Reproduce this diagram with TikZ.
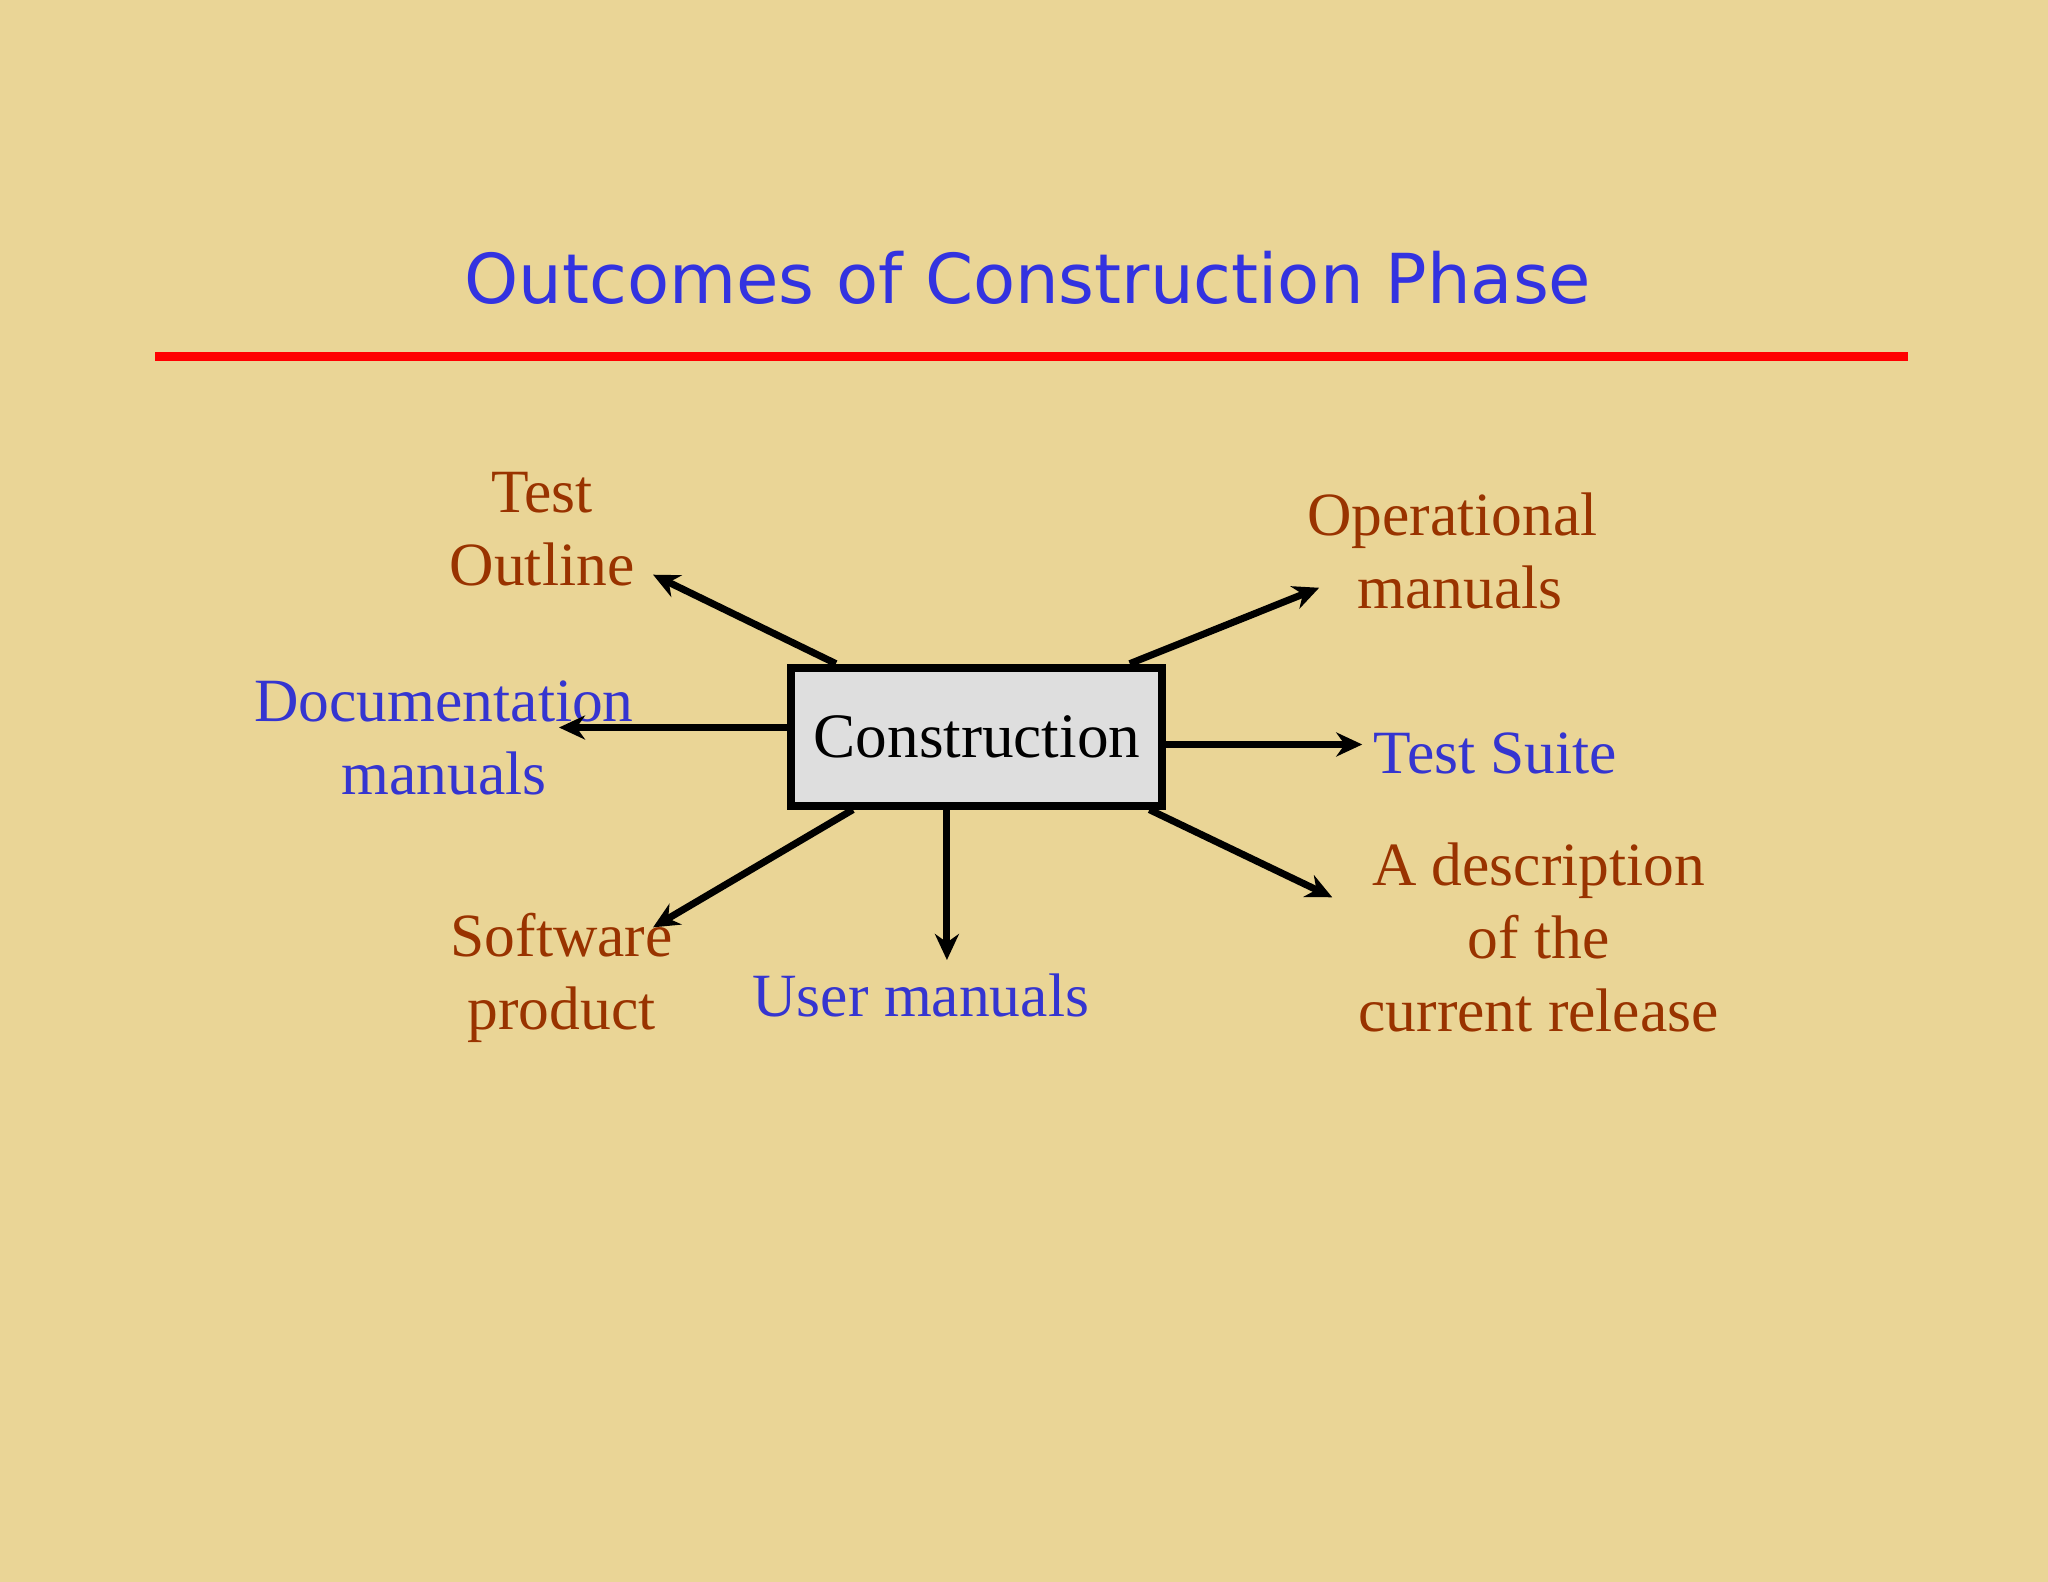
\documentclass[tikz,border=0pt]{standalone}
\usepackage{fontspec}
\setmainfont{Liberation Serif}
\newfontfamily\titlefont{DejaVu Sans}
\usetikzlibrary{arrows.meta}
\definecolor{bg}{HTML}{EAD596}
\definecolor{brn}{HTML}{993300}
\definecolor{blu}{HTML}{3535D0}
\definecolor{ttl}{HTML}{3333E0}
\begin{document}
\begin{tikzpicture}[x=0.013061cm,y=-0.013061cm,
  lbl/.style={font=\fontsize{17.5}{20.8}\selectfont,align=center,inner sep=0pt},
  arr/.style={line width=0.7mm,-{Stealth[length=2.6mm,width=2.4mm]}}]
\fill[bg] (0,0) rectangle (1568,1211);
\useasboundingbox (0,0) rectangle (1568,1211);
\node[font=\titlefont\fontsize{19.6}{22}\selectfont,text=ttl] (title) at (787,213) {Outcomes of Construction Phase};
\draw[red,line width=0.95mm] (119,273) -- (1461,273);
\node[draw=black,line width=0.8mm,fill=black!13,inner sep=0pt,
  minimum width=3.71cm,minimum height=1.38cm,font=\fontsize{18}{21}\selectfont] (c) at (748,564) {Construction};
\node[lbl,text=brn] (to) at (415,405) {Test\\Outline};
\node[lbl,text=brn] (om) at (1112,422) {Operational\\\ manuals};
\node[lbl,text=blu] (dm) at (340,565) {Documentation\\manuals};
\node[lbl,text=blu] (ts) at (1145,577) {Test Suite};
\node[lbl,text=brn] (ad) at (1178,718) {A description\\of the\\current release};
\node[lbl,text=brn] (sp) at (430,749) {Software\\product};
\node[lbl,text=blu] (um) at (705,762) {User manuals};
\coordinate (e1) at (500,440);
\coordinate (e2) at (1010,450);
\coordinate (e3) at (428,557);
\coordinate (e4) at (1043,570);
\coordinate (e5) at (1020,687);
\coordinate (e6) at (500,710);
\coordinate (e7) at (725,735);
\draw[arr] (c.north west -| 640,0) -- (e1);
\draw[arr] (c.north west -| 865,0) -- (e2);
\draw[arr] (c.west |- 0,557) -- (e3);
\draw[arr] (c.east |- 0,570) -- (e4);
\draw[arr] (c.south west -| 880,0) -- (e5);
\draw[arr] (c.south west -| 653,0) -- (e6);
\draw[arr] (c.south west -| 725,0) -- (e7);
\end{tikzpicture}
\end{document}
